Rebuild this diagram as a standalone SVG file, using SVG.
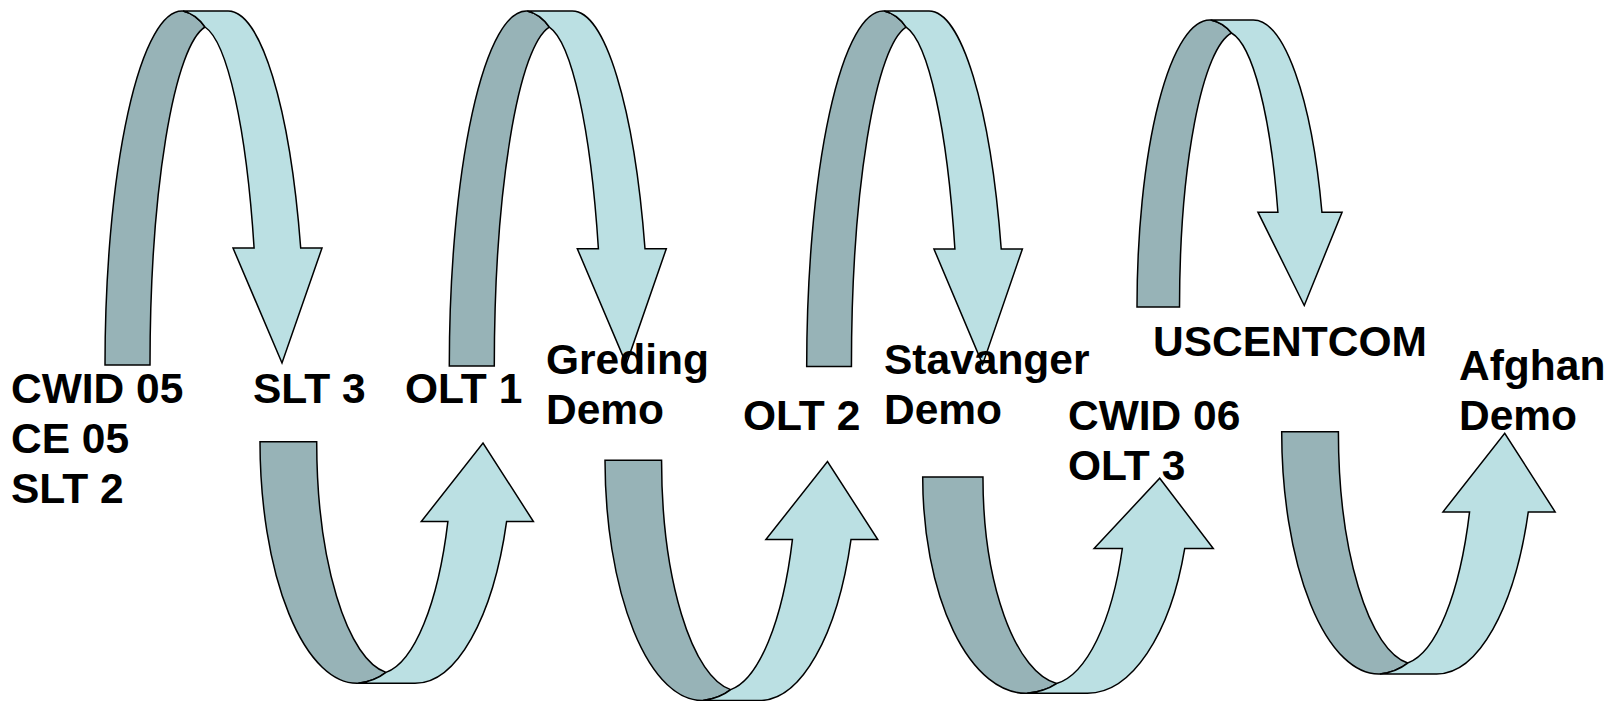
<svg xmlns="http://www.w3.org/2000/svg" width="1612" height="701" viewBox="0 0 1612 701">
<style>
.dk{fill:#97B3B7;stroke:#000;stroke-width:1.5;stroke-linejoin:miter;vector-effect:non-scaling-stroke}
.lt{fill:#BBE0E3;stroke:#000;stroke-width:1.5;stroke-linejoin:miter;vector-effect:non-scaling-stroke}
.lbl{font-family:"Liberation Sans",Arial,sans-serif;font-weight:bold;font-size:42.5px;fill:#000}
</style>
<defs>
<g id="arc">
<path class="dk" d="M0,354 A77,354 0 0 1 78,0 Q91,3 100,16 A62,340.2 0 0 0 45,354 Z"/>
<path class="lt" d="M78,0 L123,0 A77,354 0 0 1 195.7,237 L217,237 L177,352 L128,237 L149.1,237 A59.7,340.4 0 0 0 100,16 Q91,3 78,0 Z"/>
</g>
</defs>
<g id="connectors">
<g id="arrow-top-1"><use href="#arc" transform="translate(105,11) scale(1,1)"/></g>
<g id="arrow-top-2"><use href="#arc" transform="translate(449.3,11) scale(1,1.003)"/></g>
<g id="arrow-top-3"><use href="#arc" transform="translate(806.7,11) scale(0.994,1.004)"/></g>
<g id="arrow-top-4"><use href="#arc" transform="translate(1137,20) scale(0.945,0.811)"/></g>
<g id="arrow-bottom-1"><use href="#arc" transform="translate(260,683.3) scale(1.26,-0.6825)"/></g>
<g id="arrow-bottom-2"><use href="#arc" transform="translate(605,700.5) scale(1.257,-0.679)"/></g>
<g id="arrow-bottom-3"><use href="#arc" transform="translate(922.7,693.3) scale(1.339,-0.611)"/></g>
<g id="arrow-bottom-4"><use href="#arc" transform="translate(1281.7,674) scale(1.26,-0.684)"/></g>
</g>
<g id="node-cwid05"><text class="lbl" x="11" y="403">CWID 05</text><text class="lbl" x="11" y="453">CE 05</text><text class="lbl" x="11" y="503">SLT 2</text></g>
<g id="node-slt3"><text class="lbl" x="253" y="403">SLT 3</text></g>
<g id="node-olt1"><text class="lbl" x="405" y="403">OLT 1</text></g>
<g id="node-greding"><text class="lbl" x="546" y="374">Greding</text><text class="lbl" x="546" y="424">Demo</text></g>
<g id="node-olt2"><text class="lbl" x="743" y="430">OLT 2</text></g>
<g id="node-stavanger"><text class="lbl" x="884" y="374">Stavanger</text><text class="lbl" x="884" y="424">Demo</text></g>
<g id="node-cwid06"><text class="lbl" x="1068" y="430">CWID 06</text><text class="lbl" x="1068" y="480">OLT 3</text></g>
<g id="node-uscentcom"><text class="lbl" x="1153" y="356">USCENTCOM</text></g>
<g id="node-afghan"><text class="lbl" x="1459" y="380">Afghan</text><text class="lbl" x="1459" y="430">Demo</text></g>
</svg>
